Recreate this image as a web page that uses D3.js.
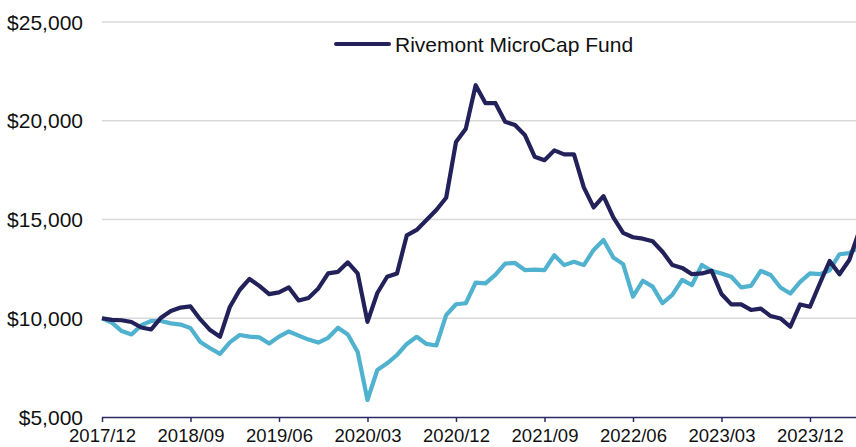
<!DOCTYPE html>
<html>
<head>
<meta charset="utf-8">
<script src="https://cdn.jsdelivr.net/npm/d3@7"></script>
<style>
  body { margin: 0; background: #fff; }
  svg { display: block; font-family: "Liberation Sans", Arial, sans-serif; }
</style>
</head>
<body>
<svg id="chart"></svg>
<script>
// monthly growth of $10,000, 2017/12 .. 2024/05
var fund = [10000, 9920, 9900, 9810, 9530, 9430, 10030, 10370, 10540, 10600,
  9940, 9400, 9060, 10570, 11430, 11990, 11640, 11220, 11310, 11560,
  10900, 11030, 11510, 12270, 12350, 12830, 12270, 9820, 11280, 12100,
  12270, 14200, 14470, 14970, 15480, 16100, 18920, 19600, 21800, 20890,
  20900, 19950, 19780, 19280, 18180, 18000, 18500, 18300, 18300, 16630,
  15610, 16180, 15110, 14320, 14100, 14030, 13900, 13370, 12700, 12550,
  12230, 12270, 12400, 11230, 10700, 10700, 10420, 10490, 10110, 9990,
  9570, 10700, 10580, 11760, 12900, 12230, 12950, 14400];
var bench = [10000, 9780, 9350, 9180, 9650, 9860, 9860, 9740, 9680, 9500,
  8800, 8480, 8200, 8780, 9150, 9070, 9030, 8720, 9070, 9330,
  9120, 8920, 8770, 9010, 9520, 9180, 8290, 5860, 7380, 7720,
  8140, 8700, 9060, 8700, 8620, 10160, 10710, 10760, 11800, 11770,
  12200, 12770, 12800, 12440, 12460, 12440, 13190, 12690, 12860, 12690,
  13460, 13960, 13080, 12740, 11090, 11900, 11600, 10760, 11180, 11940,
  11680, 12700, 12400, 12270, 12100, 11560, 11640, 12400, 12190, 11560,
  11250, 11840, 12270, 12230, 12430, 13240, 13300, 13600];
var xTicks = ["2017/12","2018/09","2019/06","2020/03","2020/12","2021/09","2022/06","2023/03","2023/12"];
var yTicks = [5000, 10000, 15000, 20000, 25000];
var seriesName = "Rivemont MicroCap Fund";

var W = 856, H = 447;
var fmtM = d3.timeFormat("%Y/%m");
var months = d3.timeMonth.range(new Date(2017, 11, 1), new Date(2024, 5, 1)).map(fmtM);

var svg = d3.select("#chart").attr("width", W).attr("height", H);

var x = d3.scalePoint().domain(months).range([102, 102 + (months.length - 1) * 9.833]);
var y = d3.scaleLinear().domain([5000, 25000]).range([417, 22]);

// gridlines
svg.append("g").selectAll("line")
  .data(yTicks.slice(1))
  .join("line")
  .attr("x1", 102).attr("x2", W)
  .attr("y1", d => y(d)).attr("y2", d => y(d))
  .attr("stroke", "#d9d9d9").attr("stroke-width", 1.5);

// y labels
svg.append("g").selectAll("text")
  .data(yTicks)
  .join("text")
  .attr("x", 83).attr("y", d => y(d))
  .attr("dy", "0.36em")
  .attr("text-anchor", "end")
  .style("font-size", "21px")
  .style("fill", "#111")
  .text(d => "$" + d3.format(",")(d));

// x axis
var xAxis = svg.append("g")
  .attr("transform", "translate(0," + y(5000) + ")")
  .call(d3.axisBottom(x).tickValues(xTicks).tickSize(5).tickSizeOuter(0).tickPadding(7));
xAxis.select(".domain").attr("stroke", "#2a2a62").attr("stroke-width", 1.5)
  .attr("d", "M102,0.5H" + W);
xAxis.selectAll(".tick line").attr("stroke", "#2a2a62").attr("stroke-width", 1.5);
xAxis.selectAll(".tick text")
  .attr("font-family", "Liberation Sans, Arial, sans-serif")
  .style("font-size", "18.5px").style("fill", "#111");

var line = d3.line().x((d, i) => x(months[i])).y(d => y(d));

svg.append("path").datum(bench)
  .attr("d", line).attr("fill", "none")
  .attr("stroke", "#50b2ce").attr("stroke-width", 4.2)
  .attr("stroke-linejoin", "round");

svg.append("path").datum(fund)
  .attr("d", line).attr("fill", "none")
  .attr("stroke", "#22215a").attr("stroke-width", 4.2)
  .attr("stroke-linejoin", "round");

// legend
var lg = svg.append("g");
lg.append("line")
  .attr("x1", 336).attr("x2", 389).attr("y1", 44).attr("y2", 44)
  .attr("stroke", "#22215a").attr("stroke-width", 4).attr("stroke-linecap", "round");
lg.append("text")
  .attr("x", 395).attr("y", 52)
  .style("font-size", "21px").style("fill", "#111")
  .text(seriesName);
</script>
</body>
</html>
